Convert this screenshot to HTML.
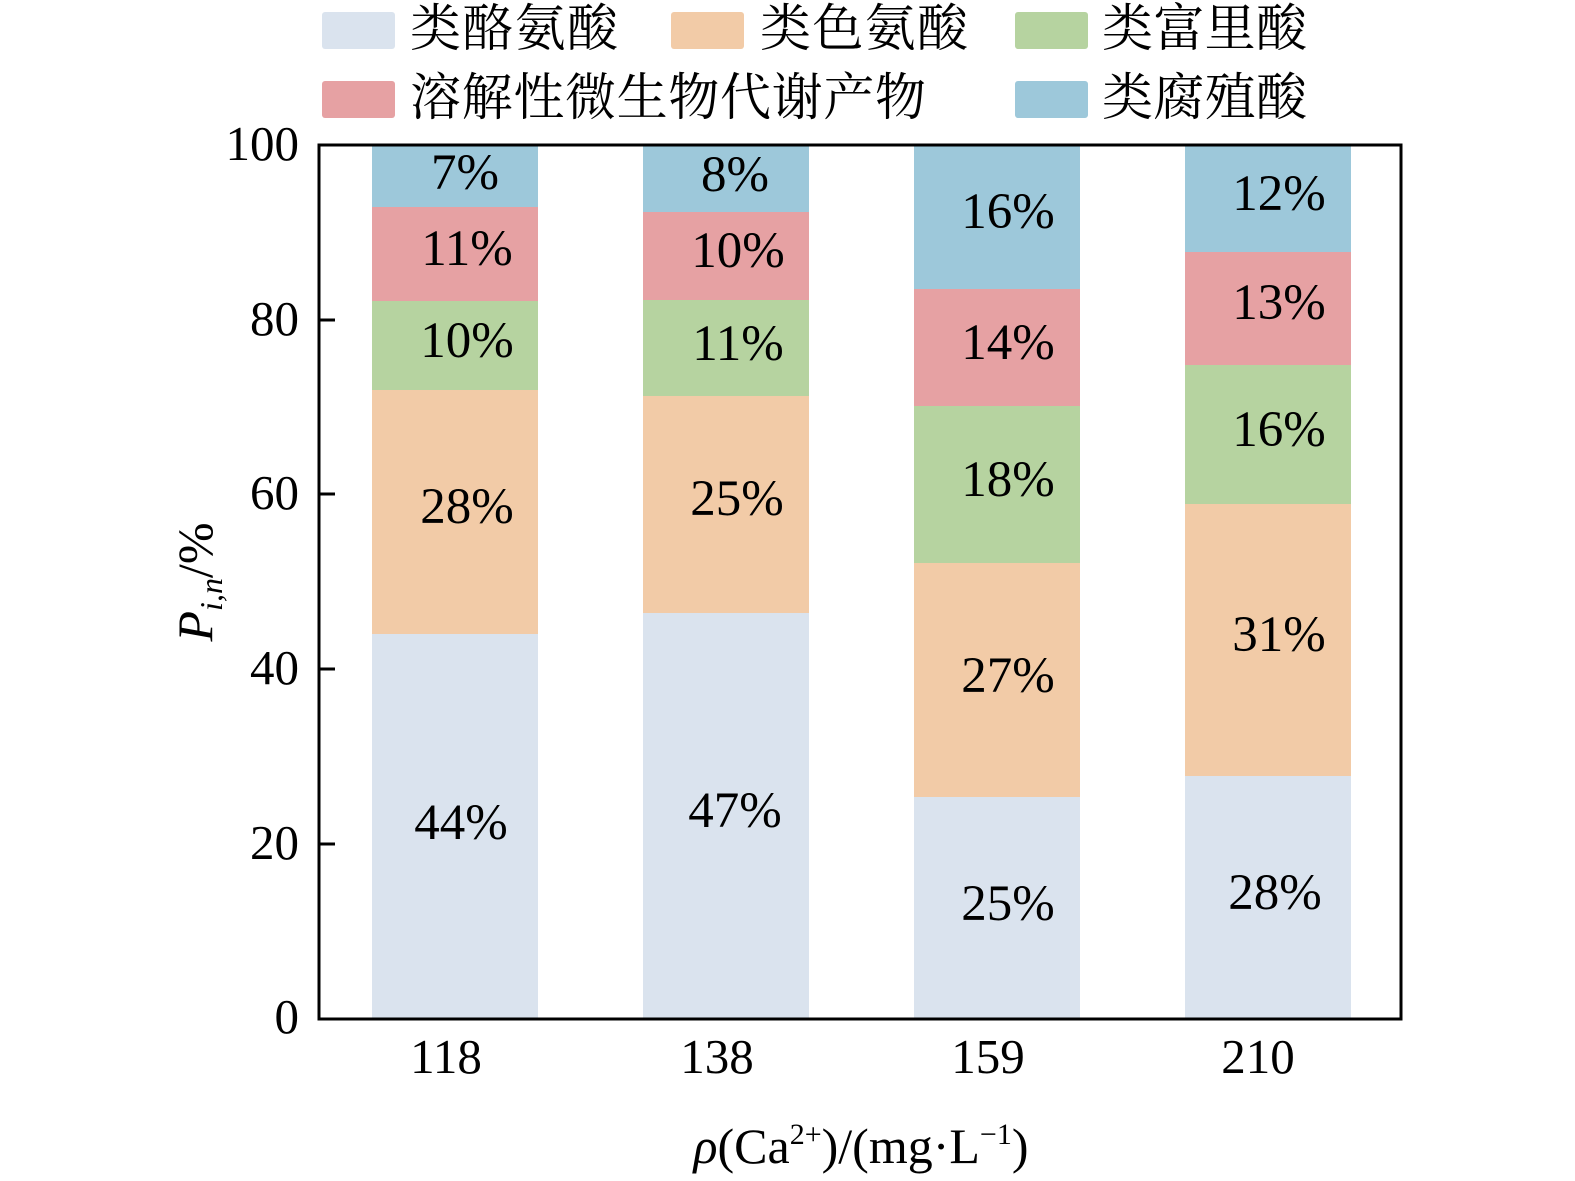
<!DOCTYPE html>
<html><head><meta charset="utf-8"><style>
html,body{margin:0;padding:0;background:#fff;}
svg{display:block;}
.t{font-family:"Liberation Serif",serif;fill:#000;}
.c{font-family:"Liberation Serif","Noto Serif CJK SC",serif;fill:#000;}
</style></head><body>
<svg width="1575" height="1181" viewBox="0 0 1575 1181" xmlns="http://www.w3.org/2000/svg">
<rect x="322" y="12" width="73" height="37" rx="3" fill="#dae3ee"/>
<text class="c" x="410" y="46" font-size="51" textLength="208">类酪氨酸</text>
<rect x="671" y="12" width="73" height="37" rx="3" fill="#f2cba7"/>
<text class="c" x="760" y="46" font-size="51" textLength="208">类色氨酸</text>
<rect x="1015" y="12" width="73" height="37" rx="3" fill="#b6d3a0"/>
<text class="c" x="1102" y="46" font-size="51" textLength="205">类富里酸</text>
<rect x="322" y="81" width="73" height="37" rx="3" fill="#e6a1a3"/>
<text class="c" x="410" y="115" font-size="51" textLength="516">溶解性微生物代谢产物</text>
<rect x="1015" y="81" width="73" height="37" rx="3" fill="#9dc8da"/>
<text class="c" x="1102" y="115" font-size="51" textLength="205">类腐殖酸</text>

<g>
<rect x="372" y="634" width="166" height="386" fill="#dae3ee"/>
<rect x="372" y="390" width="166" height="244" fill="#f2cba7"/>
<rect x="372" y="301" width="166" height="89" fill="#b6d3a0"/>
<rect x="372" y="207" width="166" height="94" fill="#e6a1a3"/>
<rect x="372" y="145" width="166" height="62" fill="#9dc8da"/>

<rect x="643" y="613" width="166" height="407" fill="#dae3ee"/>
<rect x="643" y="396" width="166" height="217" fill="#f2cba7"/>
<rect x="643" y="300" width="166" height="96" fill="#b6d3a0"/>
<rect x="643" y="212" width="166" height="88" fill="#e6a1a3"/>
<rect x="643" y="145" width="166" height="67" fill="#9dc8da"/>

<rect x="914" y="797" width="166" height="223" fill="#dae3ee"/>
<rect x="914" y="563" width="166" height="234" fill="#f2cba7"/>
<rect x="914" y="406" width="166" height="157" fill="#b6d3a0"/>
<rect x="914" y="289" width="166" height="117" fill="#e6a1a3"/>
<rect x="914" y="145" width="166" height="144" fill="#9dc8da"/>

<rect x="1185" y="776" width="166" height="244" fill="#dae3ee"/>
<rect x="1185" y="504" width="166" height="272" fill="#f2cba7"/>
<rect x="1185" y="365" width="166" height="139" fill="#b6d3a0"/>
<rect x="1185" y="252" width="166" height="113" fill="#e6a1a3"/>
<rect x="1185" y="145" width="166" height="107" fill="#9dc8da"/>
</g>

<g class="t" font-size="51" text-anchor="middle">
<text x="465" y="189">7%</text>
<text x="467" y="265">11%</text>
<text x="467" y="357">10%</text>
<text x="467" y="523">28%</text>
<text x="461" y="839">44%</text>

<text x="735" y="191">8%</text>
<text x="738" y="267">10%</text>
<text x="738" y="360">11%</text>
<text x="737" y="515">25%</text>
<text x="735" y="827">47%</text>

<text x="1008" y="228">16%</text>
<text x="1008" y="359">14%</text>
<text x="1008" y="496">18%</text>
<text x="1008" y="692">27%</text>
<text x="1008" y="920">25%</text>

<text x="1279" y="210">12%</text>
<text x="1279" y="319">13%</text>
<text x="1279" y="446">16%</text>
<text x="1279" y="651">31%</text>
<text x="1275" y="909">28%</text>
</g>

<rect x="319" y="145" width="1082" height="874" fill="none" stroke="#000" stroke-width="3"/>
<g stroke="#000" stroke-width="3">
<line x1="319" y1="320" x2="335" y2="320"/>
<line x1="319" y1="494" x2="335" y2="494"/>
<line x1="319" y1="669" x2="335" y2="669"/>
<line x1="319" y1="844" x2="335" y2="844"/>
</g>
<g class="t" font-size="49" text-anchor="end">
<text x="299" y="160">100</text>
<text x="299" y="335">80</text>
<text x="299" y="509">60</text>
<text x="299" y="684">40</text>
<text x="299" y="859">20</text>
<text x="299" y="1033">0</text>
</g>
<g class="t" font-size="49" text-anchor="middle">
<text x="446" y="1073">118</text>
<text x="717" y="1073">138</text>
<text x="988" y="1073">159</text>
<text x="1258" y="1073">210</text>
</g>
<text class="t" x="861" y="1163" font-size="50" text-anchor="middle"><tspan font-style="italic">ρ</tspan>(Ca<tspan font-size="30" dy="-19">2+</tspan><tspan dy="19">)/(mg·L</tspan><tspan font-size="30" dy="-19">−1</tspan><tspan dy="19">)</tspan></text>
<text class="t" transform="translate(212,582) rotate(-90)" font-size="50" text-anchor="middle"><tspan font-style="italic">P</tspan><tspan font-style="italic" font-size="32" dy="10">i,n</tspan><tspan dy="-10">/%</tspan></text>
</svg>
</body></html>
